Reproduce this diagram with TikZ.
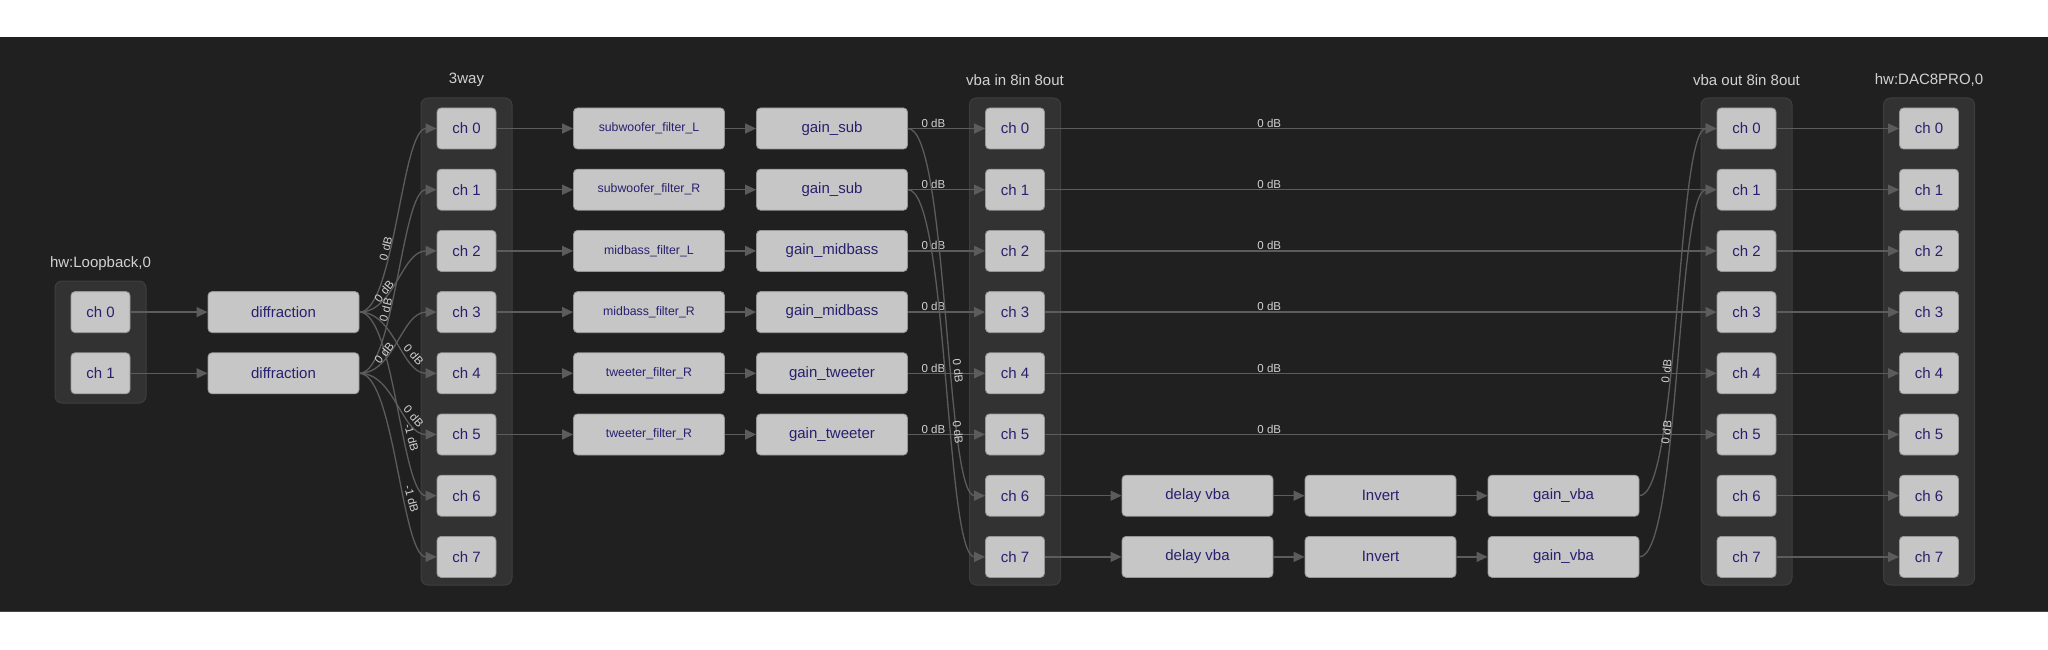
\documentclass[tikz,border=0pt]{standalone}
\usepackage{fontspec}
\setmainfont{Liberation Sans}
\usetikzlibrary{arrows.meta}
\definecolor{bgc}{RGB}{32,32,32}
\definecolor{grpfill}{RGB}{50,50,50}
\definecolor{grpborder}{RGB}{62,62,62}
\definecolor{boxfill}{RGB}{198,198,198}
\definecolor{boxborder}{RGB}{150,150,150}
\definecolor{nodetext}{RGB}{40,32,110}
\definecolor{labtext}{RGB}{210,210,210}
\definecolor{edgec}{RGB}{92,92,92}
\definecolor{framec}{RGB}{70,70,70}
\begin{document}
\begin{tikzpicture}[x=1pt,y=-1pt,
  grp/.style={draw=grpborder, fill=grpfill, rounded corners=7pt, line width=1pt, minimum width=91pt, inner sep=0pt},
  chbox/.style={draw=boxborder, fill=boxfill, rounded corners=4pt, line width=0.8pt, minimum width=59pt, minimum height=41pt, inner sep=0pt, text=nodetext, font=\fontsize{15}{18}\selectfont},
  wbox/.style={chbox, minimum width=151pt},
  fltbox/.style={wbox, font=\fontsize{12.3}{14}\selectfont},
  grplab/.style={text=labtext, font=\fontsize{15}{18}\selectfont, inner sep=0pt},
  conn/.style={draw=edgec, line width=1.3pt, -{Triangle[length=11pt,width=10pt]}},
  elab/.style={text=labtext, font=\fontsize{11.5}{14}\selectfont, inner sep=0.5pt},
]
\useasboundingbox (0,0) rectangle (2048,650);
\fill[white] (0,0) rectangle (2048,650);
\fill[bgc] (0,37) rectangle (2048,611);
\draw[framec, line width=1pt] (0,611) -- (2048,611);

% groups
\node[grp, minimum height=122pt] (gL) at (100.5,342) {};
\node[grplab] (gLl) at (100.5,264) {hw:Loopback,0};
\node[grp, minimum height=487pt] (g3) at (466.5,341.5) {};
\node[grplab] (g3l) at (466.5,80) {3way};
\node[grp, minimum height=487pt] (gVi) at (1015,341.5) {};
\node[grplab] (gVil) at (1015,80) {vba in 8in 8out};
\node[grp, minimum height=487pt] (gVo) at (1746.5,341.5) {};
\node[grplab] (gVol) at (1746.5,80) {vba out 8in 8out};
\node[grp, minimum height=487pt] (gH) at (1929,341.5) {};
\node[grplab] (gHl) at (1929,80) {hw:DAC8PRO,0};

% loopback channels
\node[chbox] (l0) at (100.5,312.1) {ch 0};
\node[chbox] (l1) at (100.5,373.3) {ch 1};
\node[wbox] (d1) at (283.5,312.1) {diffraction};
\node[wbox] (d2) at (283.5,373.3) {diffraction};

% 8-channel columns
\foreach \i in {0,...,7} {
  \node[chbox] (w\i) at (466.5,{128.5+61.2*\i}) {ch \i};
  \node[chbox] (v\i) at (1015,{128.5+61.2*\i}) {ch \i};
  \node[chbox] (o\i) at (1746.5,{128.5+61.2*\i}) {ch \i};
  \node[chbox] (h\i) at (1929,{128.5+61.2*\i}) {ch \i};
}

% filters and gains
\foreach \i/\f/\g in {0/subwoofer\_filter\_L/gain\_sub, 1/subwoofer\_filter\_R/gain\_sub,
  2/midbass\_filter\_L/gain\_midbass, 3/midbass\_filter\_R/gain\_midbass,
  4/tweeter\_filter\_R/gain\_tweeter, 5/tweeter\_filter\_R/gain\_tweeter} {
  \node[fltbox] (f\i) at (649,{128.5+61.2*\i}) {\raisebox{-1.5pt}{\f}};
  \node[wbox] (g\i) at (832,{128.5+61.2*\i}) {\g};
}

% vba chain
\foreach \i in {6,7} {
  \node[wbox] (dl\i) at (1197.5,{128.5+61.2*\i}) {delay vba};
  \node[wbox] (iv\i) at (1380.5,{128.5+61.2*\i}) {Invert};
  \node[wbox] (gv\i) at (1563.5,{128.5+61.2*\i}) {gain\_vba};
}

% connectors: loopback -> diffraction
\draw[conn] (l0.east) -- (d1.west);
\draw[conn] (l1.east) -- (d2.west);

% diffraction -> 3way
\draw[conn] (d1.east) .. controls +(35,0) and +(-35,0) .. (w0.west) node[elab,pos=0.39,sloped,above]{0 dB};
\draw[conn] (d1.east) .. controls +(35,0) and +(-35,0) .. (w2.west) node[elab,pos=0.35,sloped,above]{0 dB};
\draw[conn] (d1.east) .. controls +(35,0) and +(-35,0) .. (w4.west) node[elab,pos=0.68,sloped,above]{0 dB};
\draw[conn] (d1.east) .. controls +(35,0) and +(-35,0) .. (w6.west) node[elab,pos=0.63,sloped,above]{-1 dB};
\draw[conn] (d2.east) .. controls +(35,0) and +(-35,0) .. (w1.west) node[elab,pos=0.39,sloped,above]{0 dB};
\draw[conn] (d2.east) .. controls +(35,0) and +(-35,0) .. (w3.west) node[elab,pos=0.35,sloped,above]{0 dB};
\draw[conn] (d2.east) .. controls +(35,0) and +(-35,0) .. (w5.west) node[elab,pos=0.68,sloped,above]{0 dB};
\draw[conn] (d2.east) .. controls +(35,0) and +(-35,0) .. (w7.west) node[elab,pos=0.63,sloped,above]{-1 dB};

% 3way -> filter -> gain -> vba in
\foreach \i in {0,...,5} {
  \draw[conn] (w\i.east) -- (f\i.west);
  \draw[conn] (f\i.east) -- (g\i.west);
  \draw[conn] (g\i.east) -- (v\i.west) node[elab,pos=0.33,above]{0 dB};
  \draw[conn] (v\i.east) -- (o\i.west) node[elab,pos=0.334,above]{0 dB};
}
\draw[conn] (g0.east) .. controls +(40,0) and +(-40,0) .. (v6.west) node[elab,pos=0.61,sloped,above]{0 dB};
\draw[conn] (g1.east) .. controls +(40,0) and +(-40,0) .. (v7.west) node[elab,pos=0.61,sloped,above]{0 dB};

% vba chain
\foreach \i in {6,7} {
  \draw[conn] (v\i.east) -- (dl\i.west);
  \draw[conn] (dl\i.east) -- (iv\i.west);
  \draw[conn] (iv\i.east) -- (gv\i.west);
}
\draw[conn] (gv6.east) .. controls +(40,0) and +(-40,0) .. (o0.west) node[elab,pos=0.39,sloped,above]{0 dB};
\draw[conn] (gv7.east) .. controls +(40,0) and +(-40,0) .. (o1.west) node[elab,pos=0.39,sloped,above]{0 dB};

% vba out -> DAC
\foreach \i in {0,...,7} {
  \draw[conn] (o\i.east) -- (h\i.west);
}
\end{tikzpicture}
\end{document}
